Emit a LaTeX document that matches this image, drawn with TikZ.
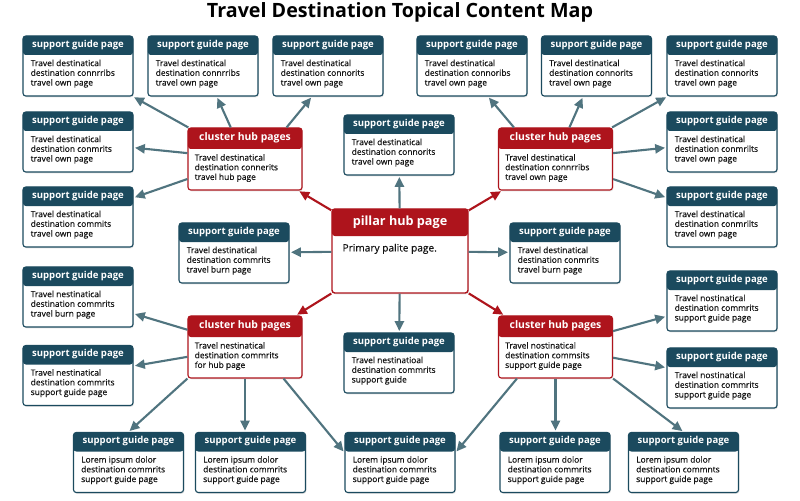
\documentclass[tikz,border=0pt]{standalone}
\usepackage{fontspec}
\setmainfont{Open Sans}
\newfontfamily\bodyfont{Open Sans}[FakeBold=0.35]
\usetikzlibrary{arrows.meta,shadows}

\definecolor{guidecol}{HTML}{1B4A5E}
\definecolor{hubcol}{HTML}{AE141C}
\definecolor{linkcol}{HTML}{50747F}
\definecolor{bodytext}{HTML}{141414}

\tikzstyle{card} = [rectangle, rounded corners=2pt, fill=white, inner sep=0pt,
  drop shadow={opacity=.22, shadow xshift=.6pt, shadow yshift=-.9pt}]
\tikzstyle{guide} = [card, draw=guidecol, line width=.8pt, minimum width=2.75cm, minimum height=1.5cm,
  path picture={\fill[guidecol] (path picture bounding box.north west) rectangle ([yshift=-.475cm]path picture bounding box.north east);}]
\tikzstyle{hub} = [card, draw=hubcol, line width=.8pt, minimum width=2.85cm, minimum height=1.55cm,
  path picture={\fill[hubcol] (path picture bounding box.north west) rectangle ([yshift=-.525cm]path picture bounding box.north east);}]
\tikzstyle{pillar} = [card, draw=hubcol, line width=1pt, minimum width=3.4cm, minimum height=2.1cm,
  path picture={\fill[hubcol] (path picture bounding box.north west) rectangle ([yshift=-.675cm]path picture bounding box.north east);}]
\tikzstyle{head} = [text=white, inner sep=0pt]
\tikzstyle{body} = [anchor=north west, align=left, text=bodytext, inner sep=0pt]
\tikzstyle{link} = [draw=linkcol, line width=1.5pt, -{Triangle[length=7pt,width=6.5pt]}, shorten >=1pt]
\tikzstyle{hublink} = [link, draw=hubcol]

\newcommand{\guide}[3]{%
  \node [guide] (#1) at (#2) {};
  \node [head, font=\fontsize{6.8}{7.5}\selectfont\bfseries] at ([yshift=-.2375cm]#1.north) {support guide page};
  \node [body, font=\bodyfont\fontsize{6}{6.9}\selectfont] at ([xshift=.2cm,yshift=-.6cm]#1.north west) {#3};}
\newcommand{\hubpage}[3]{%
  \node [hub] (#1) at (#2) {};
  \node [head, font=\fontsize{7.4}{8}\selectfont\bfseries] at ([yshift=-.2625cm]#1.north) {cluster hub pages};
  \node [body, font=\bodyfont\fontsize{6}{6.9}\selectfont] at ([xshift=.175cm,yshift=-.66cm]#1.north west) {#3};}

\begin{document}
\begin{tikzpicture}[x=.025cm, y=-.025cm]
\useasboundingbox [fill=white] (0,0) rectangle (800,500);
\node [font=\fontsize{14}{16}\selectfont\bfseries] (title) at (400,12) {Travel Destination Topical Content Map};

% pillar
\node [pillar] (pillar) at (400,251) {};
\node [head, font=\fontsize{9}{10}\selectfont\bfseries] at ([yshift=-.3375cm]pillar.north) {pillar hub page};
\node [body, font=\bodyfont\fontsize{7.2}{8}\selectfont] at ([xshift=.275cm,yshift=-.88cm]pillar.north west) {Primary palite page.};

% clusters
\hubpage{hubnw}{245,159}{Travel destinatical\\destination connerits\\travel hub page}
\hubpage{hubne}{555.5,159}{Travel destinatical\\destination connrribs\\travel own page}
\hubpage{hubsw}{245,347}{Travel nestinatical\\destination commrits\\for hub page}
\hubpage{hubse}{555.5,347}{Travel nostinatical\\destination commsits\\support guide page}

% top row
\guide{t1}{78,66}{Travel destinatical\\destination connrribs\\travel own page}
\guide{t2}{203,66}{Travel destinatical\\destination connrribs\\travel own page}
\guide{t3}{328,66}{Travel destinatical\\destination connorits\\travel own page}
\guide{t4}{472,66}{Travel destinatical\\destination connoribs\\travel own page}
\guide{t5}{596.5,66}{Travel destinatical\\destination connorits\\travel own page}
\guide{t6}{722,66}{Travel destinatical\\destination connorits\\travel own page}

% left column
\guide{l2}{78,142}{Travel destinatical\\destination conmrits\\travel own page}
\guide{l3}{78,217}{Travel destinatical\\destination commits\\travel own page}
\guide{l4}{78,297}{Travel nestinatical\\destination commrits\\travel burn page}
\guide{l5}{78,375.5}{Travel nestinatical\\destination commrits\\support guide page}

% right column
\guide{r2}{722,142}{Travel destinatical\\destination conmrilts\\travel own page}
\guide{r3}{722,217}{Travel destinatical\\destination conmrilts\\travel own page}
\guide{r4}{722,301}{Travel nostinatical\\destination commrits\\support guide page}
\guide{r5}{722,378}{Travel nostinatical\\destination commrits\\support guide page}

% around the pillar
\guide{ctop}{399,145}{Travel destinatical\\destination connorits\\travel own page}
\guide{cleft}{234,253}{Travel destinatical\\destination commrits\\travel burn page}
\guide{cright}{565,253}{Travel destinatical\\destination conmrits\\travel burn page}
\guide{cbot}{399,363}{Travel nestinatioal\\destination commrits\\support guide}

% bottom row
\guide{b1}{128.5,462.5}{Lorem ipsum dolor\\destination commrits\\support guide page}
\guide{b2}{250.5,462.5}{Lorem ipsum dolor\\destination commrits\\support guide page}
\guide{b3}{400,462.5}{Lorem ipsum dolor\\destination commrits\\support guide page}
\guide{b4}{555,462.5}{Lorem ipsum dolor\\destination commrits\\support guide page}
\guide{b5}{683.5,462.5}{Lorem ipsum dolor\\destination commnts\\support guide page}

% pillar links
\draw [hublink] (pillar) -- (hubnw);
\draw [hublink] (pillar) -- (hubne);
\draw [hublink] (pillar) -- (hubsw);
\draw [hublink] (pillar) -- (hubse);
\draw [link] (pillar) -- (ctop);
\draw [link] (pillar) -- (cleft);
\draw [link] (pillar) -- (cright);
\draw [link] (pillar) -- (cbot);

% cluster links
\draw [link] (hubnw) -- (t1);
\draw [link] (hubnw) -- (t2);
\draw [link] ([xshift=-.4cm]hubnw.north east) -- ([xshift=-.4cm]t3.south);
\draw [link] (hubnw) -- (l2);
\draw [link] (hubnw) -- (l3);

\draw [link] ([xshift=.4cm]hubne.north west) -- ([xshift=.4cm]t4.south);
\draw [link] (hubne) -- (t5);
\draw [link] (hubne) -- (t6);
\draw [link] (hubne) -- (r2);
\draw [link] (hubne) -- (r3);

\draw [link] (hubsw) -- (l4);
\draw [link] (hubsw) -- (l5);
\draw [link] (hubsw.south west) -- (b1.north);
\draw [link] (hubsw.south) -- (hubsw.south |- b2.north);
\draw [link] ([xshift=-.475cm]hubsw.south east) -- ([yshift=.25cm]b3.west);

\draw [link] (hubse) -- (r4);
\draw [link] (hubse) -- (r5);
\draw [link] ([xshift=.475cm]hubse.south west) -- ([yshift=.25cm]b3.east);
\draw [link] (hubse.south) -- (hubse.south |- b4.north);
\draw [link] (hubse.south east) -- (b5.north);
\end{tikzpicture}
\end{document}
